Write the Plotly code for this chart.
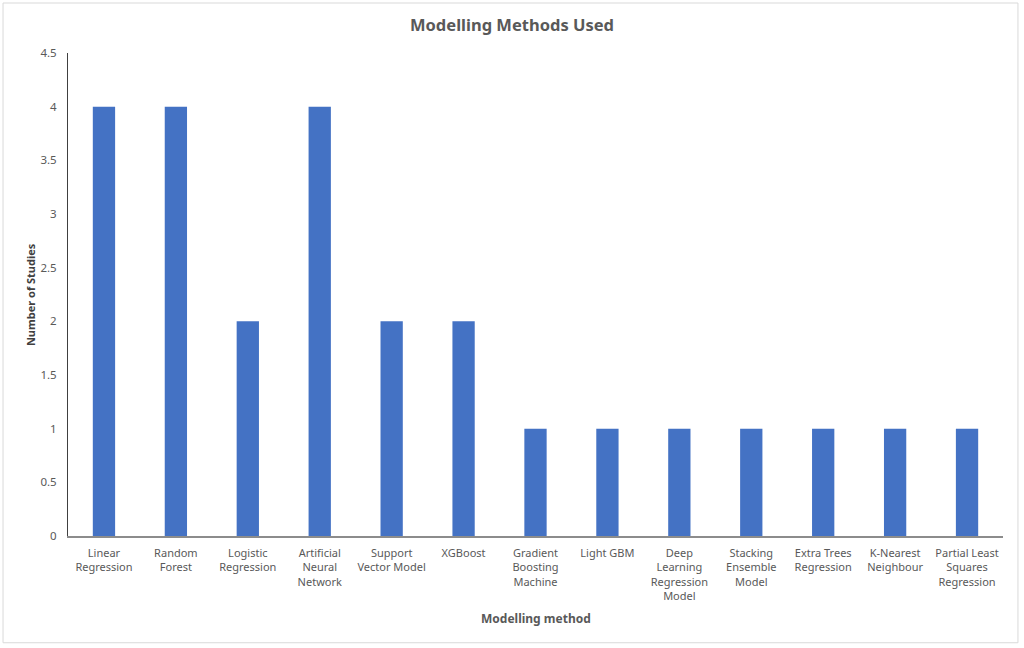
import plotly.graph_objects as go

methods = [
    "Linear<br>Regression", "Random<br>Forest", "Logistic<br>Regression",
    "Artificial<br>Neural<br>Network", "Support<br>Vector Model", "XGBoost",
    "Gradient<br>Boosting<br>Machine", "Light GBM", "Deep<br>Learning<br>Regression<br>Model",
    "Stacking<br>Ensemble<br>Model", "Extra Trees<br>Regression", "K-Nearest<br>Neighbour",
    "Partial Least<br>Squares<br>Regression",
]
studies = [4, 4, 2, 4, 2, 2, 1, 1, 1, 1, 1, 1, 1]

y_ticks = [0, 0.5, 1, 1.5, 2, 2.5, 3, 3.5, 4, 4.5]

FONT = "Noto Sans"
GREY = "#595959"

fig = go.Figure(go.Bar(
    x=methods,
    y=studies,
    marker=dict(color="#4472C4", line=dict(width=0)),
))

fig.update_layout(
    width=1024,
    height=648,
    margin=dict(l=68, r=21, t=53, b=112),
    paper_bgcolor="white",
    plot_bgcolor="white",
    bargap=0.69,
    showlegend=False,
    font=dict(family=FONT, size=11, color=GREY),
    title=dict(
        text="<b>Modelling Methods Used</b>",
        x=0.5, xref="container", y=0.961, yref="container",
        xanchor="center", yanchor="middle",
        font=dict(family=FONT, size=16.5, color=GREY),
    ),
)

fig.update_xaxes(
    showline=True, linecolor="#8c8c8c", linewidth=1.5,
    showgrid=False, ticks="", tickangle=0,
    ticklabelstandoff=6,
    tickfont=dict(size=11, color=GREY),
)
fig.update_yaxes(
    range=[0, 4.5], tickvals=y_ticks,
    showline=True, linecolor="#404040", linewidth=1,
    showgrid=False, zeroline=False, ticks="",
    ticklabelstandoff=8,
    tickfont=dict(size=11.5, color=GREY),
)

# axis titles
fig.add_annotation(
    text="<b>Modelling method</b>", xref="paper", yref="paper",
    x=0.5, y=-0.17, xanchor="center", yanchor="middle", showarrow=False,
    font=dict(family=FONT, size=12, color=GREY),
)
fig.add_annotation(
    text="<b>Number of Studies</b>", xref="paper", yref="paper",
    x=-0.04, y=0.5, xanchor="center", yanchor="middle", showarrow=False,
    textangle=-90, font=dict(family=FONT, size=11, color="#404040"),
)

# chart border
fig.add_shape(
    type="rect", xref="paper", yref="paper",
    x0=-0.0695, x1=1.016, y0=-0.221, y1=1.1035,
    line=dict(color="#d9d9d9", width=1),
)

fig.write_html(
    "out.html",
    config={"displayModeBar": False},
    post_script="document.body.style.margin='0';",
)
